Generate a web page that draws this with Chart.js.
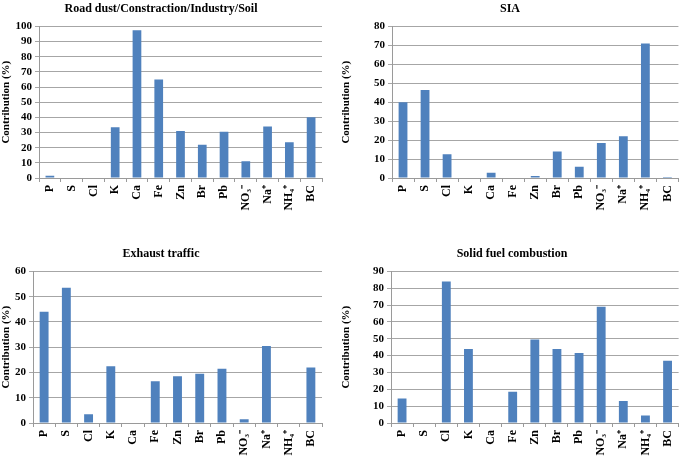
<!DOCTYPE html>
<html>
<head>
<meta charset="utf-8">
<script src="https://cdn.jsdelivr.net/npm/chart.js@4"></script>
<style>
  body { margin: 0; background: #fff; }
  .box { position: absolute; }
</style>
</head>
<body>
<div class="box" style="left:0;top:0;width:330px;height:212px"><canvas id="c1"></canvas></div>
<div class="box" style="left:340px;top:0;width:345px;height:212px"><canvas id="c2"></canvas></div>
<div class="box" style="left:0;top:245px;width:330px;height:212px"><canvas id="c3"></canvas></div>
<div class="box" style="left:340px;top:245px;width:345px;height:212px"><canvas id="c4"></canvas></div>
<script>
const species = ["P", "S", "Cl", "K", "Ca", "Fe", "Zn", "Br", "Pb", "NO₃⁻", "Na⁺", "NH₄⁺", "BC"];

const roadDust = [1.5, 0, 0, 33.5, 97.5, 65, 31, 22, 30.5, 11, 34, 23.5, 40];
const sia = [40, 46.5, 12.5, 0, 2.8, 0, 1, 14, 6, 18.5, 22, 71, 0.5];
const exhaust = [44, 53.5, 3.5, 22.5, 0, 16.5, 18.5, 19.5, 21.5, 1.5, 30.5, 0, 22];
const solidFuel = [14.5, 0, 84, 44, 0, 18.5, 49.5, 44, 41.5, 69, 13, 4.5, 37];

const serif = "'Liberation Serif', 'Times New Roman', serif";

function makeChart(id, title, values, yMax, yWidth, padRight) {
  const ctx = document.getElementById(id).getContext("2d");
  return new Chart(ctx, {
    type: "bar",
    data: {
      labels: species,
      datasets: [{
        data: values,
        backgroundColor: "#4f81bd",
        borderWidth: 0,
        categoryPercentage: 1,
        barPercentage: 0.4
      }]
    },
    options: {
      responsive: true,
      maintainAspectRatio: false,
      animation: false,
      layout: { padding: { top: 0, right: padRight, bottom: 0, left: 0 } },
      plugins: {
        legend: { display: false },
        tooltip: { enabled: false },
        title: {
          display: true,
          text: title,
          color: "#000",
          font: { family: serif, size: 12, weight: "bold" },
          padding: { top: 2, bottom: 10 }
        }
      },
      scales: {
        x: {
          grid: { display: true, drawOnChartArea: false, drawTicks: true, tickLength: 4, color: "#9a9a9a", offset: true },
          border: { color: "#9a9a9a" },
          ticks: {
            color: "#000",
            minRotation: 90,
            maxRotation: 90,
            autoSkip: false,
            padding: 3,
            font: { family: serif, size: 12, weight: "bold" }
          },
          afterFit: s => { s.height = 34; }
        },
        y: {
          min: 0,
          max: yMax,
          grid: { color: "#a6a6a6", tickLength: 4 },
          border: { color: "#9a9a9a" },
          ticks: {
            stepSize: 10,
            autoSkip: false,
            color: "#000",
            padding: 3,
            font: { family: serif, size: 11, weight: "bold" }
          },
          title: {
            display: true,
            text: "Contribution (%)",
            color: "#000",
            padding: 0,
            font: { family: serif, size: 11, weight: "bold" }
          },
          afterFit: s => { s.width = yWidth; }
        }
      }
    }
  });
}

makeChart("c1", "Road dust/Constraction/Industry/Soil", roadDust, 100, 39, 8);
makeChart("c2", "SIA", sia, 80, 52, 5);
makeChart("c3", "Exhaust traffic", exhaust, 60, 33, 8);
makeChart("c4", "Solid fuel combustion", solidFuel, 90, 51, 1);
</script>
</body>
</html>
